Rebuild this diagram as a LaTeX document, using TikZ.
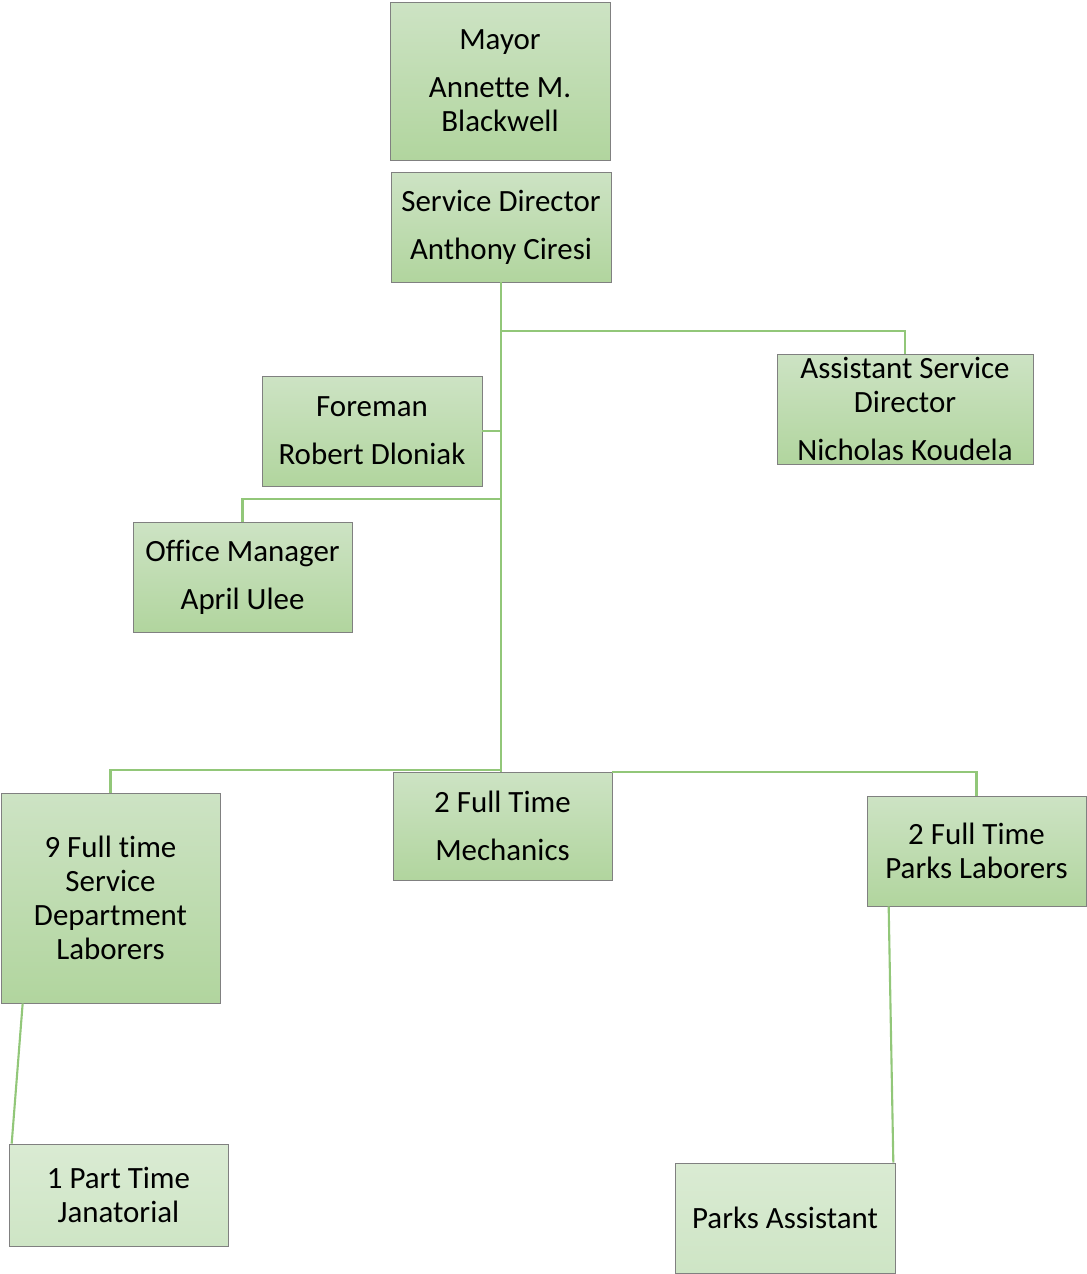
\documentclass[tikz,border=0pt]{standalone}
\usepackage{fontspec}
\setmainfont{Carlito}[Ligatures=NoCommon]
\usetikzlibrary{positioning,calc}
\definecolor{boxtop}{RGB}{205,227,196}
\definecolor{boxbot}{RGB}{177,213,158}
\definecolor{paletop}{RGB}{218,235,211}
\definecolor{palebot}{RGB}{206,229,197}
\definecolor{linkgreen}{RGB}{146,199,121}
\tikzset{
    every node/.style={font=\fontsize{17.6}{19.3}\selectfont},
    greenbox/.style={draw=black!50, top color=boxtop, bottom color=boxbot, align=center,
                     minimum width=4.4cm, minimum height=2.2cm, inner sep=0pt},
    palebox/.style={greenbox, top color=paletop, bottom color=palebot},
    link/.style={draw=linkgreen, line width=1.2pt},
}
\newcommand{\gap}{\\[8pt]}
\begin{document}
\begin{tikzpicture}[x=0.02cm, y=-0.02cm]
\useasboundingbox (0,0) rectangle (1086,1274);

% boxes
\node[greenbox, minimum height=3.16cm] (mayor) at (500,81) {Mayor\gap Annette M.\\Blackwell};
\node[greenbox] (sd) at (501,227) {Service Director\gap Anthony Ciresi};
\node[greenbox, minimum width=5.12cm] (asd) at (905,409) {Assistant Service\\Director\gap Nicholas Koudela};
\node[greenbox] (fore) at (372,431) {Foreman\gap Robert Dloniak};
\node[greenbox, minimum width=4.38cm] (off) at (242.5,577) {Office Manager\gap April Ulee};
\node[greenbox, minimum width=4.38cm, minimum height=4.2cm] (lab) at (110.5,898) {9 Full time\\Service\\Department\\Laborers};
\node[greenbox, minimum width=4.38cm, minimum height=2.16cm] (mech) at (502.5,826) {2 Full Time\gap Mechanics};
\node[greenbox, minimum width=4.38cm] (parks) at (976.5,851) {2 Full Time\\Parks Laborers};
\node[palebox, minimum width=4.38cm, minimum height=2.04cm] (jan) at (118.5,1195) {1 Part Time\\Janatorial};
\node[palebox] (pa) at (785,1218) {Parks Assistant};

% branch points on the trunk
\coordinate (bAsd) at (501,331);
\coordinate (bOff) at (501,499);
\coordinate (bLab) at (501,770);

% connectors
\draw[link] (sd.south) -- (sd.south |- mech.north);
\draw[link] (bAsd) -| (asd.north);
\draw[link] (fore.east) -- (fore.east -| sd.south);
\draw[link] (bOff) -| (off.north);
\draw[link] (bLab) -| (lab.north);
\draw[link] (mech.north east) -| (parks.north);
\draw[link] ([shift={(22,0)}]lab.south west) -- ([shift={(3,0)}]jan.north west);
\draw[link] ([shift={(22,0)}]parks.south west) -- ([shift={(-2,0)}]pa.north east);
\end{tikzpicture}
\end{document}
